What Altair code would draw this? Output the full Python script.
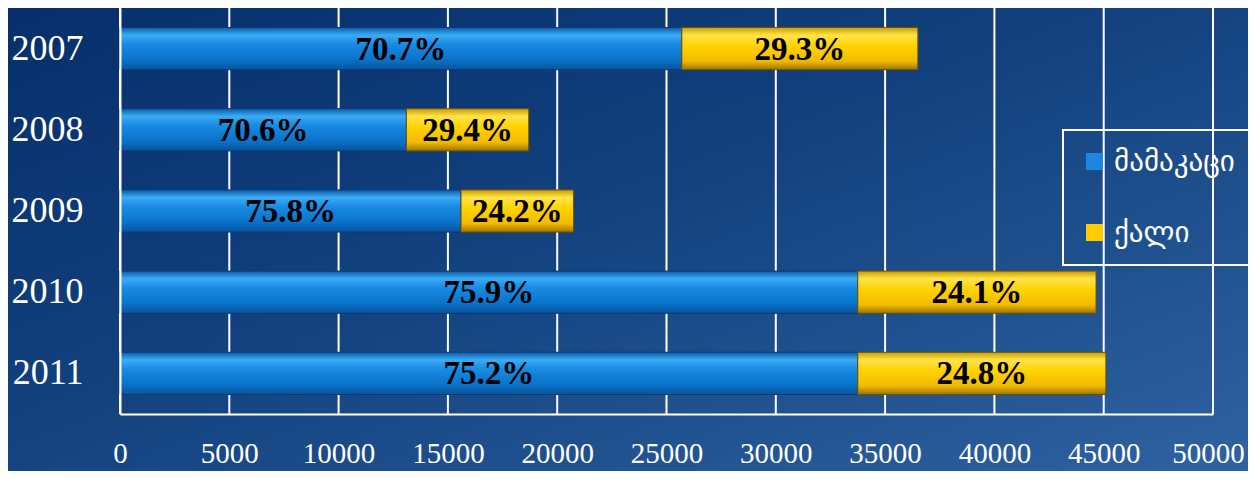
import altair as alt
import pandas as pd

years = ["2007", "2008", "2009", "2010", "2011"]
series = ["მამაკაცი", "ქალი"]
male = [25700, 13100, 15600, 33750, 33750]
female = [10800, 5600, 5150, 10900, 11350]
male_pct = ["70.7%", "70.6%", "75.8%", "75.9%", "75.2%"]
female_pct = ["29.3%", "29.4%", "24.2%", "24.1%", "24.8%"]
x_ticks = [0, 5000, 10000, 15000, 20000, 25000, 30000, 35000, 40000, 45000, 50000]

rows = []
for i, y in enumerate(years):
    rows.append(dict(year=y, series=series[0], start=0, end=male[i], label=male_pct[i]))
    rows.append(dict(year=y, series=series[1], start=male[i], end=male[i] + female[i], label=female_pct[i]))
df = pd.DataFrame(rows)
ticks_df = pd.DataFrame({"t": x_ticks})

W, H = 1093, 406
PL, PT, PR, PB = 112, 0, 35, 57

xscale = alt.Scale(domain=[0, 50000], nice=False, zero=True)
yscale = alt.Scale(domain=years, paddingInner=0.48, paddingOuter=0.24)

bg = alt.Chart(pd.DataFrame({"a": [1]})).mark_rect(
    color=alt.LinearGradient(
        gradient="linear",
        stops=[
            alt.GradientStop(color="#062f6b", offset=0),
            alt.GradientStop(color="#12417e", offset=0.45),
            alt.GradientStop(color="#2f62a1", offset=1),
        ],
        x1=0, y1=0, x2=1, y2=1,
    )
).encode(
    x=alt.value(-PL), x2=alt.value(W + PR), y=alt.value(-PT), y2=alt.value(H + PB)
)

grid = alt.Chart(ticks_df).mark_rule(color="white", strokeWidth=2).encode(
    x=alt.X("t:Q", scale=xscale)
)

blue_grad = alt.LinearGradient(
    gradient="linear",
    stops=[
        alt.GradientStop(color="#0b5aa6", offset=0),
        alt.GradientStop(color="#3aacf5", offset=0.18),
        alt.GradientStop(color="#1a8ae2", offset=0.4),
        alt.GradientStop(color="#0a74cc", offset=0.75),
        alt.GradientStop(color="#08549a", offset=1),
    ],
    x1=0, y1=0, x2=0, y2=1,
)
yellow_grad = alt.LinearGradient(
    gradient="linear",
    stops=[
        alt.GradientStop(color="#c99a00", offset=0),
        alt.GradientStop(color="#ffe34a", offset=0.18),
        alt.GradientStop(color="#ffd200", offset=0.45),
        alt.GradientStop(color="#f2ba00", offset=0.8),
        alt.GradientStop(color="#9c7400", offset=1),
    ],
    x1=0, y1=0, x2=0, y2=1,
)

base = alt.Chart(df)

xaxis = alt.Axis(
    values=x_ticks, format="d", grid=False, ticks=False, domainColor="white",
    domainWidth=2, labelColor="white", labelFont="Liberation Serif", labelFontSize=29,
    labelPadding=25, title=None, zindex=1, labelFlush=False, labelOverlap=False,
    labelOffset=alt.condition(alt.datum.value == 50000, alt.value(-5), alt.value(0)),
)
yaxis = alt.Axis(
    grid=False, ticks=False, domainColor="white", domainWidth=2, labelColor="white",
    labelFont="Liberation Serif", labelFontSize=36, labelPadding=37, title=None, zindex=1,
)

bars_m = base.transform_filter(alt.datum.series == series[0]).mark_bar(
    color=blue_grad, stroke="#0a3a72", strokeWidth=1
).encode(
    x=alt.X("start:Q", scale=xscale, axis=xaxis),
    x2="end:Q",
    y=alt.Y("year:N", scale=yscale, axis=yaxis),
)
bars_f = base.transform_filter(alt.datum.series == series[1]).mark_bar(
    color=yellow_grad, stroke="#6e5200", strokeWidth=1
).encode(
    x=alt.X("start:Q", scale=xscale),
    x2="end:Q",
    y=alt.Y("year:N", scale=yscale),
)

labels = base.transform_calculate(mid="(datum.start + datum.end) / 2").mark_text(
    font="Liberation Serif", fontSize=33, fontWeight="bold", color="black",
    baseline="middle", dy=1,
).encode(
    x=alt.X("mid:Q", scale=xscale),
    y=alt.Y("year:N", scale=yscale),
    text="label:N",
)

legend_layer = base.mark_square(opacity=0).encode(
    x=alt.X("end:Q", scale=xscale),
    y=alt.Y("year:N", scale=yscale),
    color=alt.Color(
        "series:N",
        scale=alt.Scale(domain=series, range=["#1a88e0", "#ffcc00"]),
        legend=alt.Legend(
            title=None, orient="none", legendX=943, legendY=122,
            strokeColor="white", padding=17,
            labelFont="DejaVu Sans", labelFontSize=29, labelColor="white",
            symbolType="square", symbolSize=289, symbolOpacity=1,
            symbolStrokeWidth=0, rowPadding=41, labelOffset=5, zindex=1,
        ),
    ),
)

chart = alt.layer(bg, grid, bars_m, bars_f, labels, legend_layer).properties(
    width=W, height=H,
    autosize=alt.AutoSizeParams(type="none"),
    padding={"left": PL, "top": PT, "right": PR, "bottom": PB},
    background="#0f3d7a",
).configure_view(stroke=None).configure_legend(strokeWidth=2)

chart.save("out.html", embed_options={"renderer": "svg", "actions": False})
